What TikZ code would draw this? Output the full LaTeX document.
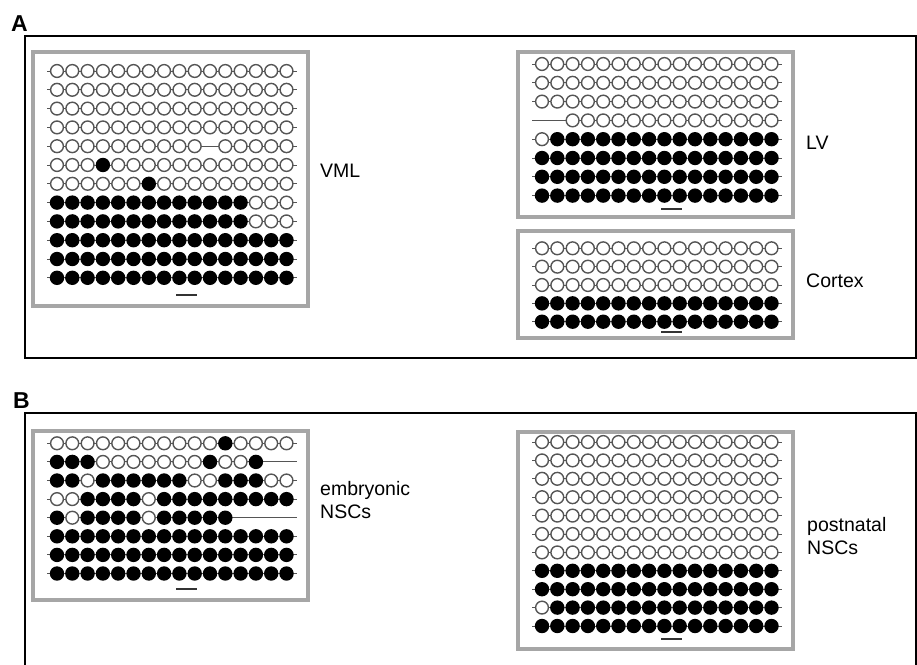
\documentclass[tikz,border=0pt]{standalone}
\usepackage{fontspec}
\setmainfont{Liberation Sans}
\usepackage{tikz}
\usetikzlibrary{positioning}
\definecolor{boxgray}{HTML}{A6A6A6}
\definecolor{cpgline}{HTML}{555555}

% one clone per row: 0 = unmethylated, 1 = methylated, 2 = no CpG
\newcommand{\clonerows}[4]{%
  \foreach \pat [count=\r from 0] in {#4} {
    \pgfmathsetmacro{\yy}{#2+\r*#3}
    \draw[strand] (#1-10,\yy) -- (#1+239.5,\yy);
    \foreach \st [count=\k from 0] in \pat {
      \ifcase\st\relax
        \path[unmeth] (#1+\k*15.3,\yy) circle[radius=6.4];
      \or
        \path[meth] (#1+\k*15.3,\yy) circle[radius=7.2];
      \fi
    }
  }
}

\begin{document}
\begin{tikzpicture}[x=1pt,y=-1pt,
  panelbox/.style={draw=black,line width=2.8pt},
  seqbox/.style={draw=boxgray,line width=3.6pt},
  strand/.style={draw=cpgline,line width=1pt},
  unmeth/.style={draw=cpgline,line width=1.4pt,fill=white},
  meth/.style={fill=black},
  scalebar/.style={draw=black!80,line width=1.8pt},
  lbl/.style={font=\fontsize{19.5}{23}\selectfont,anchor=west,align=left,inner sep=0pt},
  panel/.style={font=\fontsize{23}{26}\selectfont\bfseries,anchor=west,inner sep=0pt}]
  \useasboundingbox (0,0) rectangle (917,664);

  % panel A
  \node[panel] (pA) at (11,23.5) {A};
  \draw[panelbox] (25,36) rectangle (916,358);

  \draw[seqbox] (33,52) rectangle (308,306);
  \clonerows{57}{71}{18.8}{
    {0,0,0,0,0,0,0,0,0,0,0,0,0,0,0,0},
    {0,0,0,0,0,0,0,0,0,0,0,0,0,0,0,0},
    {0,0,0,0,0,0,0,0,0,0,0,0,0,0,0,0},
    {0,0,0,0,0,0,0,0,0,0,0,0,0,0,0,0},
    {0,0,0,0,0,0,0,0,0,0,2,0,0,0,0,0},
    {0,0,0,1,0,0,0,0,0,0,0,0,0,0,0,0},
    {0,0,0,0,0,0,1,0,0,0,0,0,0,0,0,0},
    {1,1,1,1,1,1,1,1,1,1,1,1,1,0,0,0},
    {1,1,1,1,1,1,1,1,1,1,1,1,1,0,0,0},
    {1,1,1,1,1,1,1,1,1,1,1,1,1,1,1,1},
    {1,1,1,1,1,1,1,1,1,1,1,1,1,1,1,1},
    {1,1,1,1,1,1,1,1,1,1,1,1,1,1,1,1}}
  \draw[scalebar] (176,295) -- ++(21,0);
  \node[lbl] (vml) at (320,171) {VML};

  \draw[seqbox] (518,52) rectangle (793,217);
  \clonerows{542}{64}{18.8}{
    {0,0,0,0,0,0,0,0,0,0,0,0,0,0,0,0},
    {0,0,0,0,0,0,0,0,0,0,0,0,0,0,0,0},
    {0,0,0,0,0,0,0,0,0,0,0,0,0,0,0,0},
    {2,2,0,0,0,0,0,0,0,0,0,0,0,0,0,0},
    {0,1,1,1,1,1,1,1,1,1,1,1,1,1,1,1},
    {1,1,1,1,1,1,1,1,1,1,1,1,1,1,1,1},
    {1,1,1,1,1,1,1,1,1,1,1,1,1,1,1,1},
    {1,1,1,1,1,1,1,1,1,1,1,1,1,1,1,1}}
  \draw[scalebar] (661,209) -- ++(21,0);
  \node[lbl] (lv) at (806,143) {LV};

  \draw[seqbox] (518,231) rectangle (793,338);
  \clonerows{542}{248.3}{18.35}{
    {0,0,0,0,0,0,0,0,0,0,0,0,0,0,0,0},
    {0,0,0,0,0,0,0,0,0,0,0,0,0,0,0,0},
    {0,0,0,0,0,0,0,0,0,0,0,0,0,0,0,0},
    {1,1,1,1,1,1,1,1,1,1,1,1,1,1,1,1},
    {1,1,1,1,1,1,1,1,1,1,1,1,1,1,1,1}}
  \draw[scalebar] (661,332) -- ++(21,0);
  \node[lbl] (ctx) at (806,281) {Cortex};

  % panel B
  \node[panel] (pB) at (13,400.5) {B};
  \draw[panelbox] (25,413) rectangle (916,667);

  \draw[seqbox] (33,431) rectangle (308,600);
  \clonerows{57}{443.3}{18.6}{
    {0,0,0,0,0,0,0,0,0,0,0,1,0,0,0,0},
    {1,1,1,0,0,0,0,0,0,0,1,0,0,1,2,2},
    {1,1,0,1,1,1,1,1,1,0,0,1,1,1,0,0},
    {0,0,1,1,1,1,0,1,1,1,1,1,1,1,1,1},
    {1,0,1,1,1,1,0,1,1,1,1,1,2,2,2,2},
    {1,1,1,1,1,1,1,1,1,1,1,1,1,1,1,1},
    {1,1,1,1,1,1,1,1,1,1,1,1,1,1,1,1},
    {1,1,1,1,1,1,1,1,1,1,1,1,1,1,1,1}}
  \draw[scalebar] (176,589) -- ++(21,0);
  \node[lbl] (emb) at (320,500) {embryonic\\NSCs};

  \draw[seqbox] (518,432) rectangle (793,649);
  \clonerows{542}{442}{18.4}{
    {0,0,0,0,0,0,0,0,0,0,0,0,0,0,0,0},
    {0,0,0,0,0,0,0,0,0,0,0,0,0,0,0,0},
    {0,0,0,0,0,0,0,0,0,0,0,0,0,0,0,0},
    {0,0,0,0,0,0,0,0,0,0,0,0,0,0,0,0},
    {0,0,0,0,0,0,0,0,0,0,0,0,0,0,0,0},
    {0,0,0,0,0,0,0,0,0,0,0,0,0,0,0,0},
    {0,0,0,0,0,0,0,0,0,0,0,0,0,0,0,0},
    {1,1,1,1,1,1,1,1,1,1,1,1,1,1,1,1},
    {1,1,1,1,1,1,1,1,1,1,1,1,1,1,1,1},
    {0,1,1,1,1,1,1,1,1,1,1,1,1,1,1,1},
    {1,1,1,1,1,1,1,1,1,1,1,1,1,1,1,1}}
  \draw[scalebar] (661,639) -- ++(21,0);
  \node[lbl] (post) at (807,536) {postnatal\\NSCs};
\end{tikzpicture}
\end{document}
